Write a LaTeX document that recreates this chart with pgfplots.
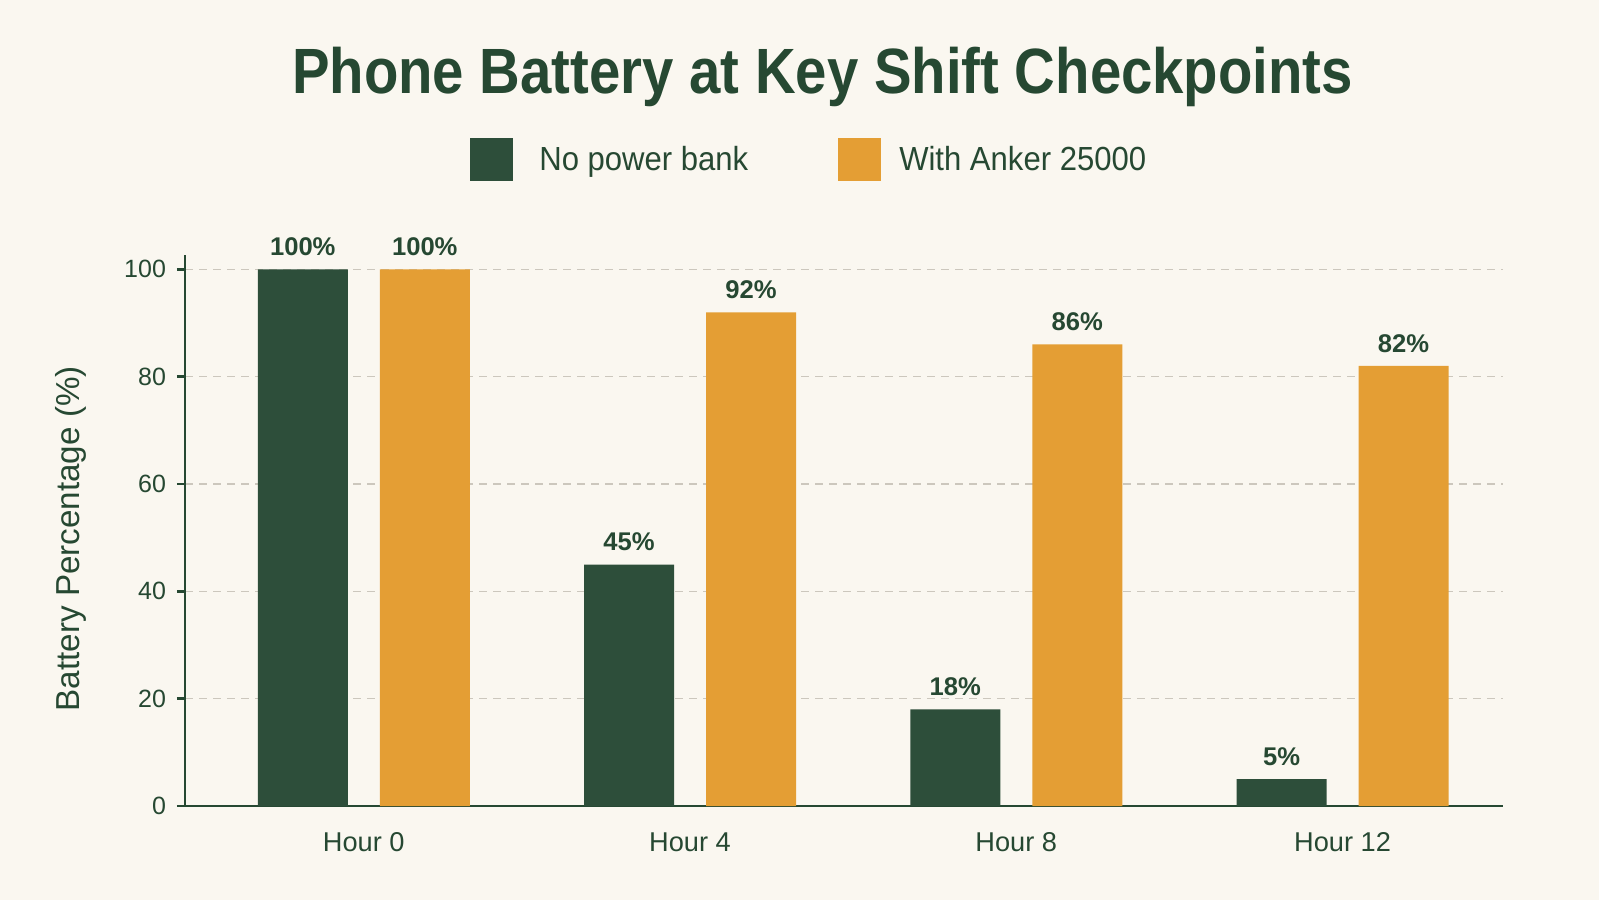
\documentclass[border=0pt]{standalone}
\usepackage{pgfplots}
\pgfplotsset{compat=1.18}
\usepackage{fontspec}
\setmainfont{Liberation Sans}
\newfontfamily\titlefont{Liberation Sans}[FakeStretch=0.88]
\newfontfamily\legfont{Liberation Sans}[FakeStretch=0.93]
\definecolor{bg}{RGB}{250,247,240}
\definecolor{nobank}{RGB}{45,78,58}
\definecolor{anker}{RGB}{228,158,52}
\definecolor{ink}{RGB}{38,72,50}
\definecolor{gridc}{RGB}{204,199,189}

\begin{document}
\begin{tikzpicture}[x=0.5pt,y=-0.5pt]
\fill[bg] (0,0) rectangle (1599,900);
\path[use as bounding box] (0,0) rectangle (1599,900);
\node[font=\titlefont\bfseries\fontsize{32}{36}\selectfont, text=ink, anchor=base, inner sep=0pt] at (822.5,93.3) {Phone Battery at Key Shift Checkpoints};

\begin{axis}[
  at={(92.5pt,-403pt)}, anchor=south west,
  scale only axis, width=658.85pt, height=275.5pt,
  ybar=16pt, bar width=45pt,
  xmin=-0.548, xmax=3.491, ymin=0, ymax=102.67,
  xtick={0,1,2,3},
  xticklabels={Hour 0,Hour 4,Hour 8,Hour 12},
  ytick={0,20,40,60,80,100},
  axis lines*=left,
  axis line style={ink, line width=1.25pt, -},
  x tick style={draw=none},
  y tick style={ink, line width=1.25pt},
  major tick length=4pt,
  tick align=outside,
  ymajorgrids,
  grid style={gridc, dash pattern=on 4pt off 3pt, line width=0.6pt},
  ticklabel style={text=ink},
  /pgf/number format/assume math mode=true,
  yticklabel style={font=\fontsize{12.5}{15}\selectfont, xshift=-2pt},
  xticklabel style={font=\fontsize{13.6}{16}\selectfont, anchor=base, yshift=-18.5pt},
  ylabel={Battery Percentage (\%)},
  ylabel style={at={(axis description cs:-0.0865,0.485)}, anchor=center, font=\fontsize{16.6}{20}\selectfont, text=ink},
  nodes near coords={\pgfmathprintnumber{\pgfplotspointmeta}\%},
  nodes near coords style={font=\fontsize{12.8}{15}\selectfont\bfseries, text=ink, anchor=south, yshift=3.3pt},
  legend columns=2,
  legend style={at={(axis description cs:0.4745,1.173)}, anchor=center, draw=none, fill=none,
    font=\legfont\fontsize{16.7}{19}\selectfont, text=ink,
    /tikz/every even column/.append style={column sep=43pt}},
  legend image code/.code={\fill[#1] (0pt,-10.75pt) rectangle (21.5pt,10.75pt);},
]
\addplot[fill=nobank, draw=none] coordinates {(0,100) (1,45) (2,18) (3,5)};
\addlegendentry{\hspace{11pt}No power bank}
\addplot[fill=anker, draw=none] coordinates {(0,100) (1,92) (2,86) (3,82)};
\addlegendentry{\hspace{7pt}With Anker 25000}
\end{axis}
\end{tikzpicture}
\end{document}
